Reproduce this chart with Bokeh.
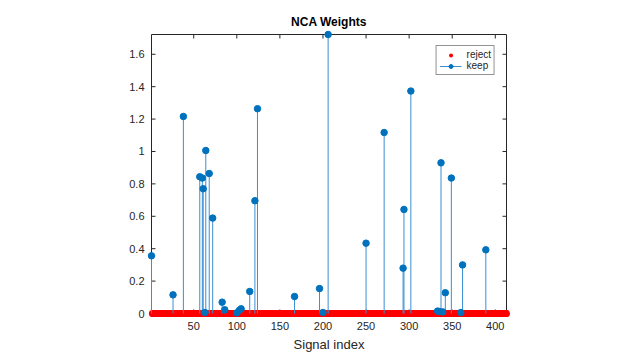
from bokeh.plotting import figure
from bokeh.models import Range1d, FixedTicker, Legend, LegendItem, ColumnDataSource
from bokeh.embed import file_html
from bokeh.resources import INLINE

# ---- data ----
n_signals = 413
keep_idx = [1, 26, 38, 57, 60, 61, 63, 64, 68, 72, 83, 86, 100, 103, 105, 115, 121, 124,
            167, 196, 200, 206, 250, 271, 293, 294, 302, 333, 335, 337, 339, 342, 349, 360, 362, 389]
keep_w = [0.356, 0.115, 1.216, 0.844, 0.836, 0.77, 0.006, 1.006, 0.864, 0.589, 0.07, 0.023,
          0.004, 0.02, 0.029, 0.136, 0.696, 1.264, 0.105, 0.154, 0.006, 1.722, 0.434, 1.117,
          0.28, 0.642, 1.373, 0.015, 0.012, 0.93, 0.01, 0.128, 0.836, 0.006, 0.30, 0.393]
x_ticks = [50, 100, 150, 200, 250, 300, 350, 400]
y_ticks = [0, 0.2, 0.4, 0.6, 0.8, 1.0, 1.2, 1.4, 1.6]
y_labels = {0: "0", 0.2: "0.2", 0.4: "0.4", 0.6: "0.6", 0.8: "0.8", 1.0: "1", 1.2: "1.2", 1.4: "1.4", 1.6: "1.6"}
x_lim = (1, n_signals)
y_lim = (0, 1.722)

keep_set = set(keep_idx)
reject_idx = [i for i in range(1, n_signals + 1) if i not in keep_set]
reject_w = [0.0] * len(reject_idx)

FONT = "Liberation Sans"
AX = "#262626"

# axes box size in px and an extra pad so that markers on the box edge are not clipped
BOX_W, BOX_H, PAD = 355, 279, 5
ux = (x_lim[1] - x_lim[0]) / BOX_W   # data units per px
uy = (y_lim[1] - y_lim[0]) / BOX_H

p = figure(frame_width=BOX_W + 2 * PAD, frame_height=BOX_H + 2 * PAD,
           output_backend="svg", toolbar_location=None,
           x_range=Range1d(x_lim[0] - PAD * ux, x_lim[1] + PAD * ux),
           y_range=Range1d(y_lim[0] - PAD * uy, y_lim[1] + PAD * uy),
           min_border_left=146, min_border_right=121, min_border_top=29, min_border_bottom=34,
           background_fill_color="white", border_fill_color="white")
p.grid.visible = False
p.outline_line_color = None

p.title.text = "NCA Weights"
p.title.align = "center"
p.title.text_font = FONT
p.title.text_font_size = "12px"
p.title.text_font_style = "bold"
p.title.text_color = "black"
p.title.standoff = 1

p.xaxis.axis_label = "Signal index"
for ax in [p.xaxis[0], p.yaxis[0]]:
    ax.axis_label_text_font = FONT
    ax.axis_label_text_font_size = "13px"
    ax.axis_label_text_font_style = "normal"
    ax.axis_label_text_color = AX
    ax.major_label_text_font = FONT
    ax.major_label_text_font_size = "11px"
    ax.major_label_text_color = AX
    ax.axis_line_color = None
    ax.major_tick_line_color = None
    ax.minor_tick_line_color = None
    ax.major_tick_in = 0
    ax.major_tick_out = 0
p.xaxis[0].ticker = FixedTicker(ticks=x_ticks)
p.yaxis[0].ticker = FixedTicker(ticks=y_ticks)
p.yaxis[0].major_label_overrides = y_labels
p.xaxis[0].major_label_standoff = 3
p.xaxis[0].axis_label_standoff = 4
p.yaxis[0].major_label_standoff = 2

# axes box and inward ticks on all four sides
TICK = 4
p.quad(left=x_lim[0], right=x_lim[1], bottom=y_lim[0], top=y_lim[1],
       fill_color=None, line_color=AX, line_width=1)
p.segment(x0=x_ticks, x1=x_ticks, y0=[y_lim[0]] * len(x_ticks), y1=[y_lim[0] + TICK * uy] * len(x_ticks),
          line_color=AX, line_width=1)
p.segment(x0=x_ticks, x1=x_ticks, y0=[y_lim[1]] * len(x_ticks), y1=[y_lim[1] - TICK * uy] * len(x_ticks),
          line_color=AX, line_width=1)
p.segment(x0=[x_lim[0]] * len(y_ticks), x1=[x_lim[0] + TICK * ux] * len(y_ticks), y0=y_ticks, y1=y_ticks,
          line_color=AX, line_width=1)
p.segment(x0=[x_lim[1]] * len(y_ticks), x1=[x_lim[1] - TICK * ux] * len(y_ticks), y0=y_ticks, y1=y_ticks,
          line_color=AX, line_width=1)

rej_src = ColumnDataSource(dict(x=reject_idx, y=reject_w))
keep_src = ColumnDataSource(dict(x=keep_idx, y=keep_w, y0=[0.0] * len(keep_idx)))

r_rej = p.scatter("x", "y", source=rej_src, size=7, color="#ff0000", line_color=None)
r_stem = p.segment(x0="x", y0="y0", x1="x", y1="y", source=keep_src, line_color="#3a8fd4", line_width=1)
r_keep = p.scatter("x", "y", source=keep_src, size=6.5, fill_color="#0072bd", line_color="#0072bd")

legend = Legend(items=[LegendItem(label="reject", renderers=[r_rej]),
                       LegendItem(label="keep", renderers=[r_stem, r_keep])],
                location="top_right", margin=16, padding=3, spacing=0,
                glyph_width=22, glyph_height=10, label_height=10, label_standoff=5,
                label_text_font=FONT, label_text_font_size="10px", label_text_color=AX,
                border_line_color=AX, border_line_width=1, background_fill_alpha=1)
p.add_layout(legend)

open("out.html", "w").write(file_html(p, INLINE))
